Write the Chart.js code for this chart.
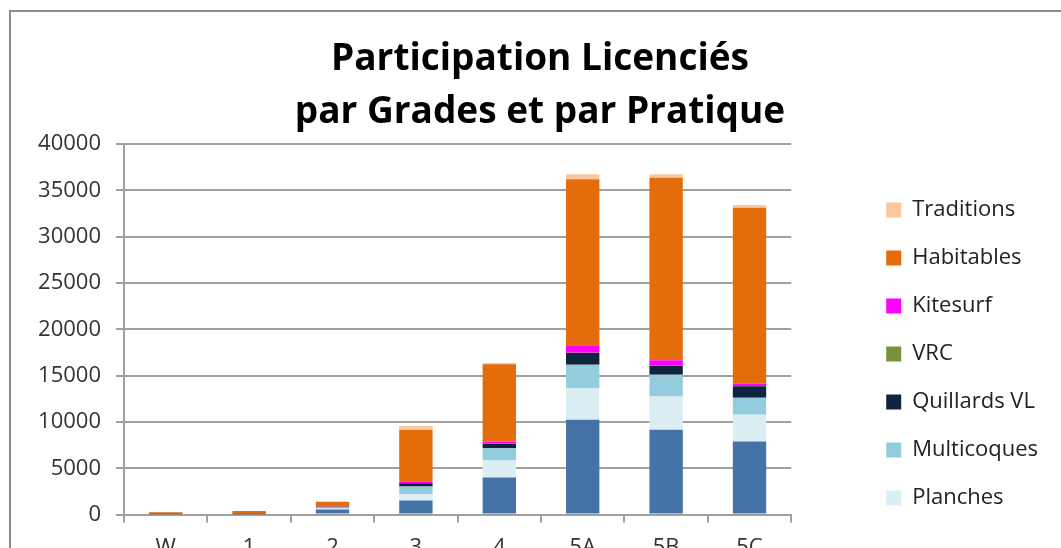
<!DOCTYPE html>
<html>
<head>
<meta charset="utf-8">
<script src="https://cdn.jsdelivr.net/npm/chart.js@4.4.0/dist/chart.umd.min.js"></script>
<style>
  html, body { margin: 0; padding: 0; background: #fff; overflow: hidden; }
  #frame { position: absolute; left: 9px; top: 10px; width: 1100px; border-top: 2px solid #8c8c8c; border-left: 2px solid #8c8c8c; }
  #myChart { display: block; }
</style>
</head>
<body>
<div id="frame"><canvas id="myChart" width="1045" height="565"></canvas></div>
<script>
// grades along the x-axis
var grades = ['W', '1', '2', '3', '4', '5A', '5B', '5C'];
var yTicks = [0, 5000, 10000, 15000, 20000, 25000, 30000, 35000, 40000];

// licenciés par pratique
var deriveurs   = [20, 20, 550, 1510, 4000, 10240, 9150, 7890];
var planches    = [0, 0, 120, 720, 1840, 3410, 3600, 2890];
var multicoques = [0, 0, 90, 790, 1330, 2530, 2350, 1830];
var quillards   = [0, 0, 100, 360, 470, 1260, 970, 1230];
var vrc         = [0, 0, 0, 10, 20, 40, 30, 30];
var kitesurf    = [0, 0, 20, 200, 230, 790, 550, 290];
var habitables  = [230, 360, 500, 5550, 8325, 17910, 19710, 18950];
var traditions  = [0, 20, 20, 430, 145, 540, 360, 290];

var font = "'Open Sans', sans-serif";

function serie(label, data, color) {
  return { label: label, data: data, backgroundColor: color, borderWidth: 0,
           categoryPercentage: 1, barPercentage: 0.4 };
}

var ctx = document.getElementById('myChart').getContext('2d');
var myChart = new Chart(ctx, {
  type: 'bar',
  data: {
    labels: grades,
    datasets: [
      serie('Dériveurs', deriveurs, '#4572A7'),
      serie('Planches', planches, '#DBEEF4'),
      serie('Multicoques', multicoques, '#93CDDD'),
      serie('Quillards VL', quillards, '#10243E'),
      serie('VRC', vrc, '#77933C'),
      serie('Kitesurf', kitesurf, '#FF00FF'),
      serie('Habitables', habitables, '#E46C0A'),
      serie('Traditions', traditions, '#FAC8A0')
    ]
  },
  options: {
    responsive: false,
    animation: false,
    layout: { padding: { left: 21, right: 8, top: 0, bottom: 4 } },
    plugins: {
      title: {
        display: true,
        text: ['Participation Licenciés', 'par Grades et par Pratique'],
        color: '#000',
        font: { family: font, size: 37, weight: 'bold', lineHeight: 1.432 },
        padding: { top: 21, bottom: 5 }
      },
      legend: {
        position: 'right',
        align: 'center',
        reverse: true,
        maxWidth: 300,
        // empty legend title only pushes the entries down
        title: { display: true, text: '', font: { size: 12, lineHeight: 1.25 }, padding: { top: 0, bottom: 108 } },
        labels: {
          color: '#222',
          font: { family: font, size: 22 },
          boxWidth: 15,
          boxHeight: 15,
          padding: 26,
          filter: function (item) { return item.text !== 'Dériveurs'; }
        }
      },
      tooltip: { enabled: false }
    },
    scales: {
      x: {
        stacked: true,
        grid: { display: true, drawOnChartArea: false, drawTicks: true, tickLength: 8, color: '#a0a0a0', lineWidth: 2, offset: true },
        border: { display: true, color: '#a0a0a0', width: 2 },
        ticks: { color: '#333', font: { family: font, size: 22 }, padding: 12 }
      },
      y: {
        stacked: true,
        min: 0,
        max: 40000,
        afterBuildTicks: function (scale) {
          scale.ticks = yTicks.map(function (v) { return { value: v }; });
        },
        afterFit: function (scale) { scale.width = 92; },
        grid: { color: '#a0a0a0', lineWidth: 2, tickLength: 8 },
        border: { display: true, color: '#a0a0a0', width: 2 },
        ticks: { color: '#333', font: { family: font, size: 22 }, padding: 15,
                 callback: function (v) { return String(v); } }
      },
      // empty space between the plot and the legend
      gap: {
        position: 'right',
        display: true,
        grid: { display: false },
        border: { display: false },
        ticks: { display: false },
        afterFit: function (scale) { scale.width = 69; }
      }
    }
  }
});
</script>
</body>
</html>
